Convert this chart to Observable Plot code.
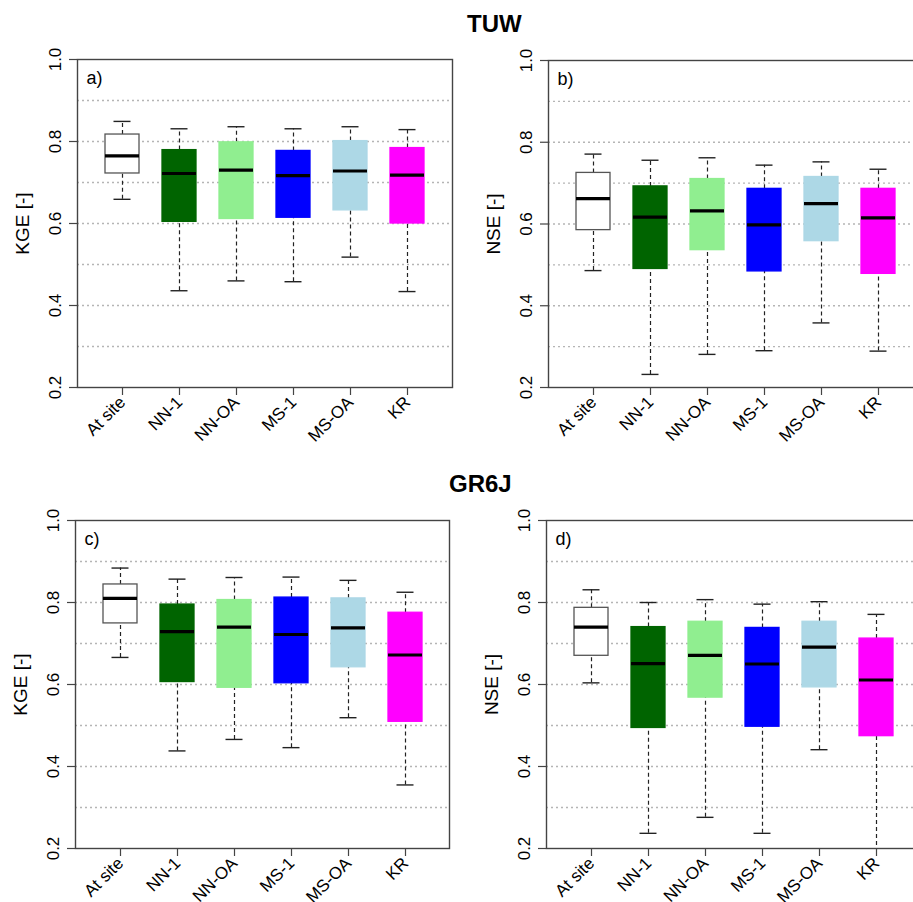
<!DOCTYPE html>
<html><head><meta charset="utf-8">
<script src="https://cdn.jsdelivr.net/npm/d3@7"></script>
<script src="https://cdn.jsdelivr.net/npm/@observablehq/plot@0.6"></script>
<style>
html,body{margin:0;padding:0;background:#fff;overflow:hidden}
#wrap{position:relative;width:913px;height:902px;overflow:hidden;font-family:"Liberation Sans",Arial,sans-serif;background:#fff}
.title{position:absolute;font-weight:bold;font-size:24px;line-height:24px;color:#000;white-space:nowrap}
.panel{position:absolute}
</style></head><body><div id="wrap"></div>
<script>
const categories = ["At site","NN-1","NN-OA","MS-1","MS-OA","KR"];
const boxFills = ["#ffffff","#006400","#90ee90","#0000ff","#add8e6","#ff00ff"];
const boxStrokes = ["#555555","#006400","#90ee90","#0000ff","#add8e6","#ff00ff"];
const yTicks = [0.2,0.4,0.6,0.8,1.0];
const gridValues = [0.3,0.4,0.5,0.6,0.7,0.8,0.9];
const titles = ["TUW","GR6J"];
const tags = ["a)","b)","c)","d)"];
const yLabels = ["KGE [-]","NSE [-]","KGE [-]","NSE [-]"];

// a) TUW, KGE
const tuwKgeLow  = [0.659,0.436,0.460,0.458,0.518,0.434];
const tuwKgeQ1   = [0.722,0.604,0.611,0.614,0.632,0.600];
const tuwKgeMed  = [0.765,0.722,0.730,0.717,0.728,0.718];
const tuwKgeQ3   = [0.817,0.779,0.798,0.777,0.801,0.784];
const tuwKgeHigh = [0.849,0.831,0.836,0.831,0.836,0.829];
// b) TUW, NSE
const tuwNseLow  = [0.486,0.232,0.281,0.290,0.358,0.289];
const tuwNseQ1   = [0.585,0.490,0.536,0.484,0.558,0.478];
const tuwNseMed  = [0.662,0.617,0.632,0.598,0.650,0.615];
const tuwNseQ3   = [0.725,0.692,0.710,0.686,0.715,0.686];
const tuwNseHigh = [0.771,0.756,0.762,0.744,0.752,0.734];
// c) GR6J, KGE
const grKgeLow  = [0.666,0.438,0.466,0.446,0.519,0.355];
const grKgeQ1   = [0.749,0.606,0.592,0.603,0.642,0.509];
const grKgeMed  = [0.810,0.729,0.740,0.722,0.738,0.672];
const grKgeQ3   = [0.844,0.795,0.806,0.812,0.810,0.775];
const grKgeHigh = [0.884,0.857,0.861,0.862,0.854,0.825];
// d) GR6J, NSE
const grNseLow  = [0.604,0.237,0.276,0.237,0.441,0.190];
const grNseQ1   = [0.670,0.494,0.568,0.497,0.593,0.474];
const grNseMed  = [0.740,0.651,0.671,0.650,0.691,0.611];
const grNseQ3   = [0.787,0.740,0.753,0.738,0.753,0.712];
const grNseHigh = [0.831,0.800,0.807,0.796,0.802,0.771];

const FONT = '"Liberation Sans", Arial, sans-serif';
const wrap = document.getElementById("wrap");

function addTitle(text, left, top) {
  const d = document.createElement("div");
  d.className = "title";
  d.textContent = text;
  d.style.left = left + "px";
  d.style.top = top + "px";
  wrap.appendChild(d);
}

function panel(stats, tag, ylabel, box) {
  const [low, q1, med, q3, high] = stats;
  const rows = categories.map((c, i) => ({
    cat: c, low: low[i], q1: q1[i], med: med[i], q3: q3[i], high: high[i],
    fill: boxFills[i], stroke: boxStrokes[i]
  }));
  const chart = Plot.plot({
    width: box.w, height: box.h,
    marginLeft: box.ml, marginRight: box.mr, marginTop: box.mt, marginBottom: box.mb,
    style: {fontFamily: FONT, background: "transparent", overflow: "visible", color: "#000", maxWidth: "none"},
    x: {type: "band", domain: categories, paddingInner: 0.41, paddingOuter: 0.45, axis: null},
    y: {domain: [0.2, 1.0], axis: null},
    color: {type: "identity"},
    marks: [
      Plot.ruleY(gridValues, {stroke: "#b5b5b5", strokeWidth: 1.3, strokeDasharray: "2,3"}),
      Plot.ruleX(rows, {x: "cat", y1: "low", y2: "q1", stroke: "#222", strokeWidth: 1.2, strokeDasharray: "4,3", clip: true}),
      Plot.ruleX(rows, {x: "cat", y1: "q3", y2: "high", stroke: "#222", strokeWidth: 1.2, strokeDasharray: "4,3", clip: true}),
      Plot.tickY(rows, {x: "cat", y: "low", insetLeft: 8.5, insetRight: 8.5, stroke: "#222", strokeWidth: 1.4, clip: true}),
      Plot.tickY(rows, {x: "cat", y: "high", insetLeft: 8.5, insetRight: 8.5, stroke: "#222", strokeWidth: 1.4}),
      Plot.barY(rows, {x: "cat", y1: "q1", y2: "q3", fill: "fill", stroke: "stroke", strokeWidth: 1.3}),
      Plot.tickY(rows, {x: "cat", y: "med", stroke: "#000", strokeWidth: 3.2}),
      Plot.frame({stroke: "#444", strokeWidth: 1.4}),
      Plot.axisY({ticks: yTicks, tickSize: 8, tickRotate: -90, tickPadding: 9, tickFormat: d3.format(".1f"),
                  fontSize: 17, stroke: "#444", strokeWidth: 1.2, fill: "#000", label: null}),
      Plot.axisX({tickSize: 8, tickRotate: -45, textAnchor: "end", lineAnchor: "middle", tickPadding: 4,
                  fontSize: 17, stroke: "#444", strokeWidth: 1.2, fill: "#000", label: null}),
      Plot.text([tag], {text: d => d, frameAnchor: "top-left", dx: 9, dy: 12, fontSize: 18,
                        textAnchor: "start", lineAnchor: "top", fill: "#000"}),
      Plot.text([ylabel], {text: d => d, frameAnchor: "left", rotate: -90, dx: -55, fontSize: 19,
                           textAnchor: "middle", lineAnchor: "middle", fill: "#000"})
    ]
  });
  chart.classList.add("panel");
  chart.style.left = box.left + "px";
  chart.style.top = box.top + "px";
  chart.style.maxWidth = "none";
  wrap.appendChild(chart);
}

addTitle(titles[0], 467, 12);
addTitle(titles[1], 449, 472);

panel([tuwKgeLow, tuwKgeQ1, tuwKgeMed, tuwKgeQ3, tuwKgeHigh], tags[0], yLabels[0],
      {left: 0, top: 40, w: 470, h: 420, ml: 77, mr: 18, mt: 19, mb: 73});
panel([tuwNseLow, tuwNseQ1, tuwNseMed, tuwNseQ3, tuwNseHigh], tags[1], yLabels[1],
      {left: 456, top: 40, w: 470, h: 420, ml: 92, mr: 3, mt: 20, mb: 73});
panel([grKgeLow, grKgeQ1, grKgeMed, grKgeQ3, grKgeHigh], tags[2], yLabels[2],
      {left: 0, top: 500, w: 470, h: 402, ml: 75, mr: 21, mt: 20, mb: 54});
panel([grNseLow, grNseQ1, grNseMed, grNseQ3, grNseHigh], tags[3], yLabels[3],
      {left: 456, top: 500, w: 470, h: 402, ml: 90, mr: 5, mt: 20, mb: 54});
</script>
</body></html>
